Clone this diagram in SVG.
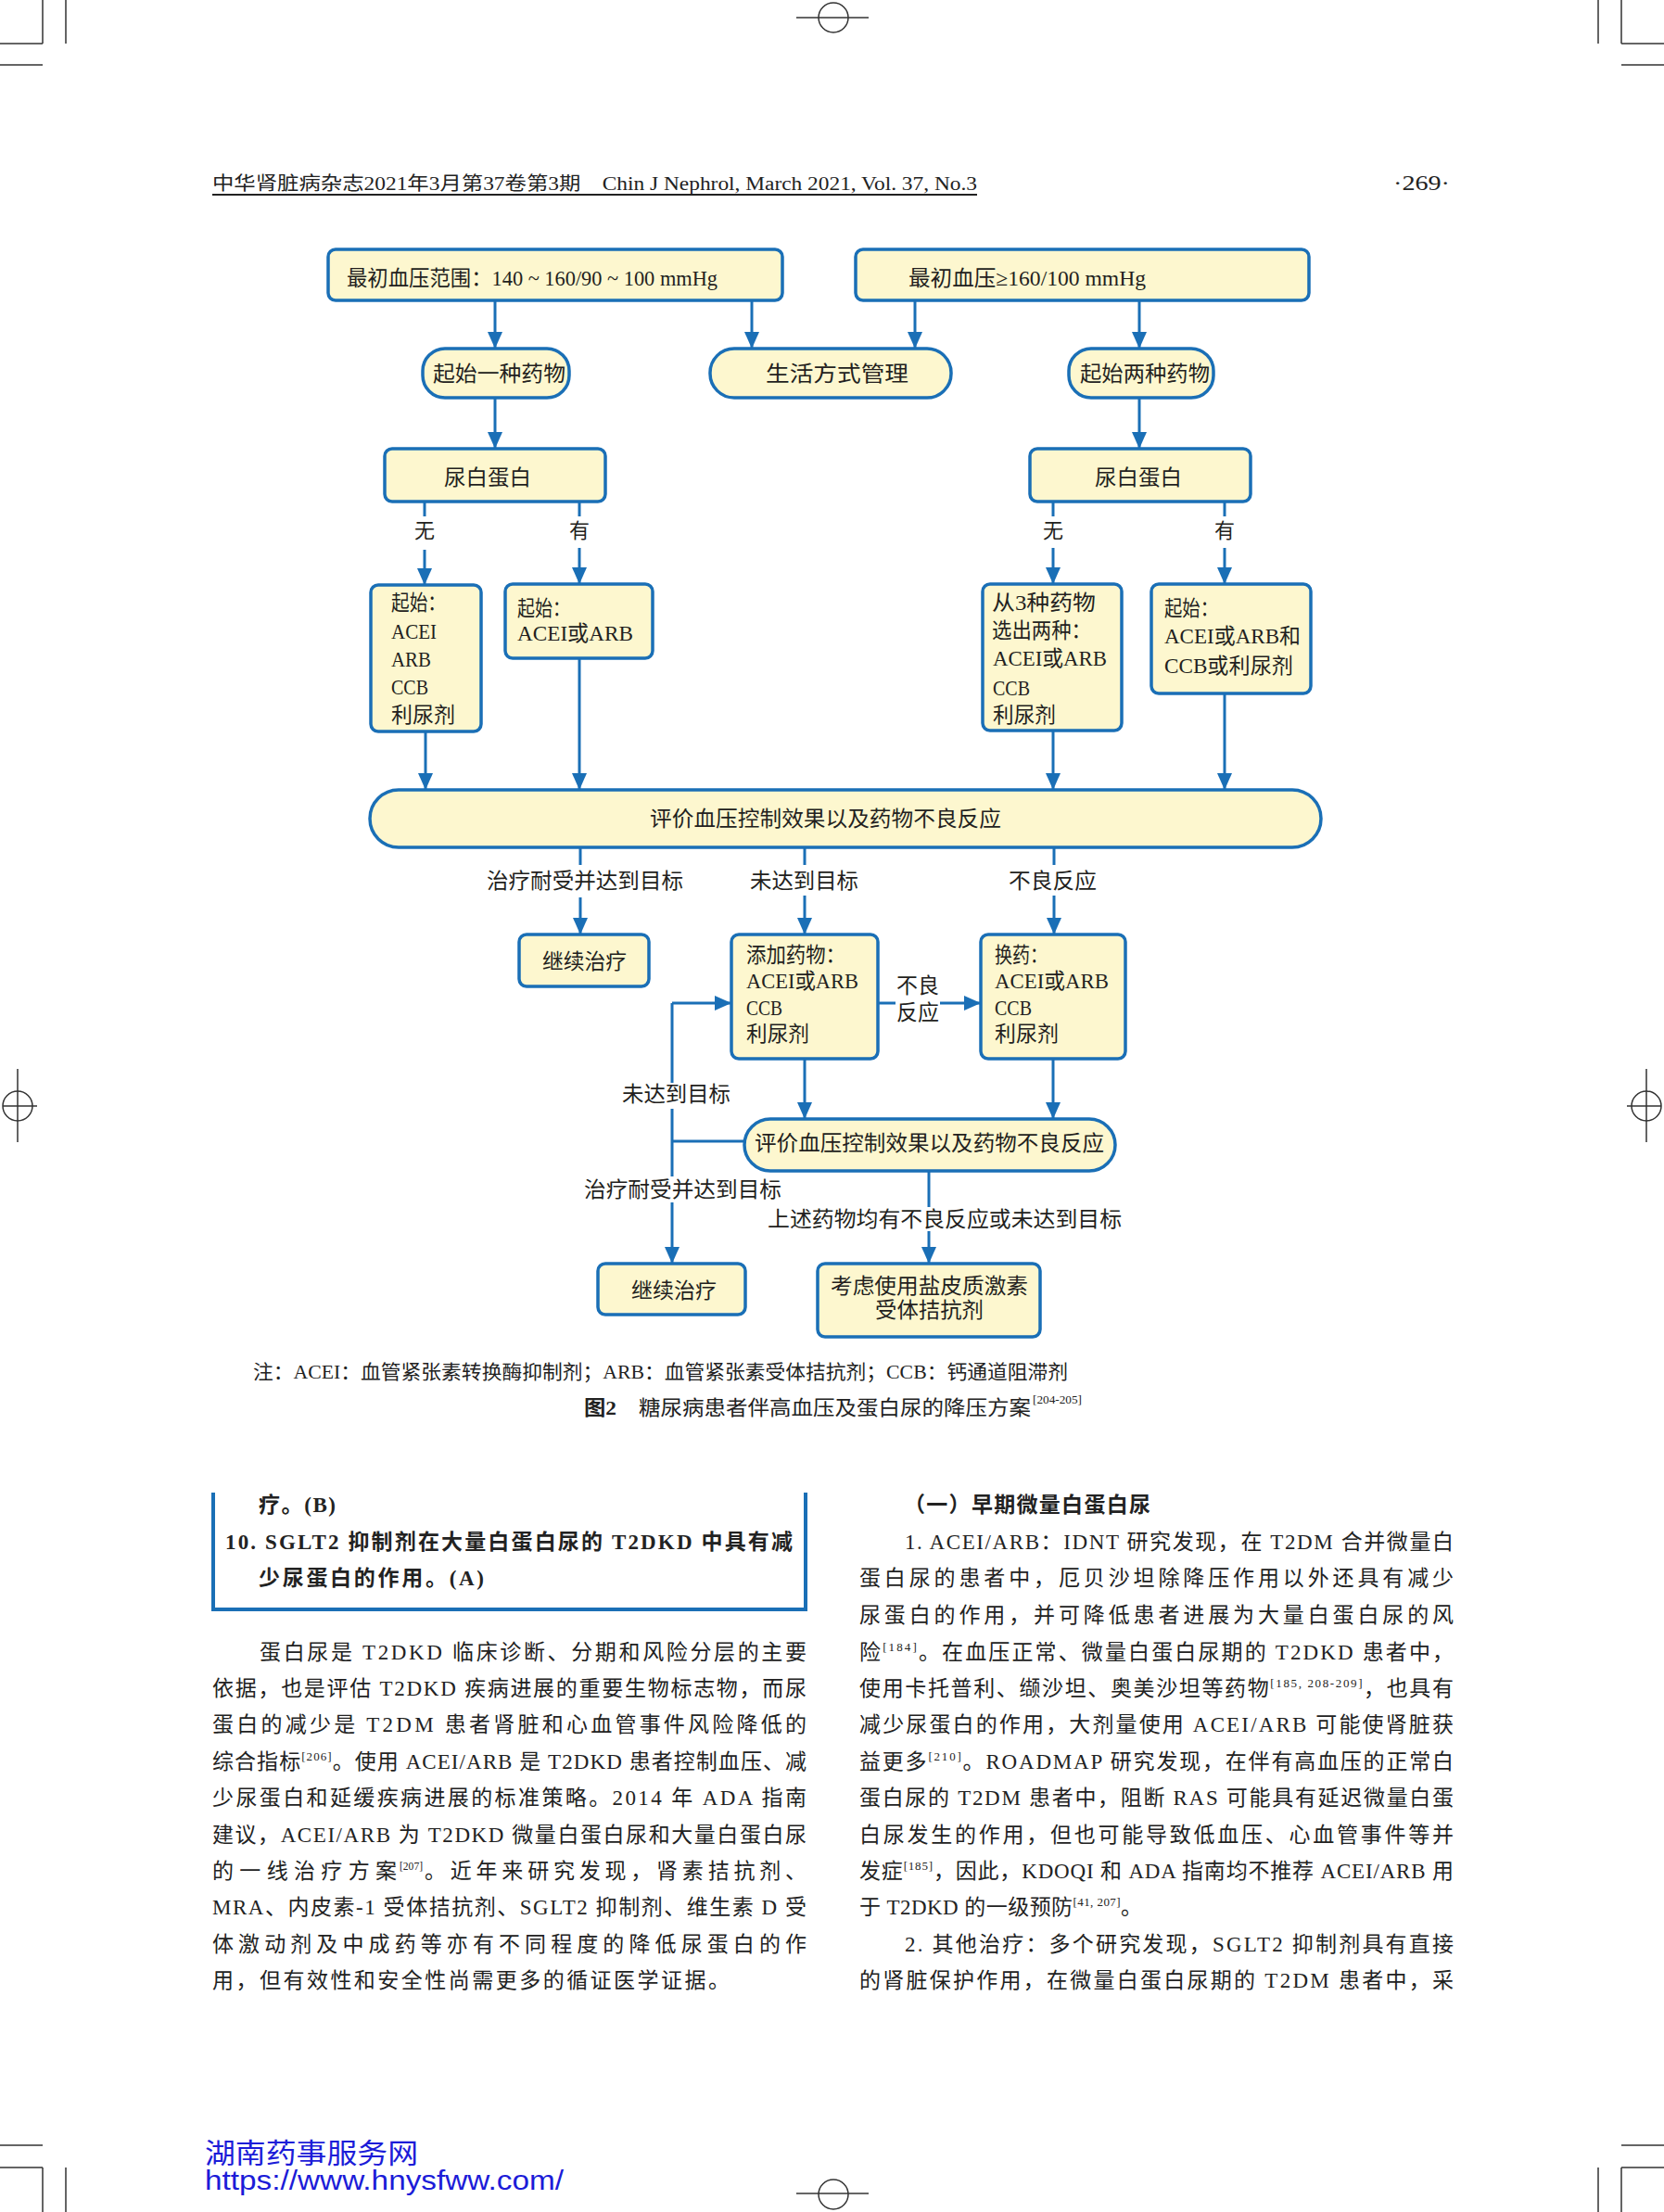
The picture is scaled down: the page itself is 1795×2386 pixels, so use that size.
<svg xmlns="http://www.w3.org/2000/svg" width="1795" height="2386" viewBox="0 0 1795 2386">
<style>
.bx{fill:#fdf7cf;stroke:#1a6fb6;stroke-width:3.5}
.c{fill:none;stroke:#1a6fb6;stroke-width:3}
.a{marker-end:url(#ah)}
.t{font-family:'Liberation Serif','Noto Sans CJK SC',serif;font-size:23px;fill:#231f20}
.lb{font-size:22px}
.b{font-family:'Liberation Serif','Noto Sans CJK SC',serif;font-size:23px;fill:#222}
.bd{font-weight:bold}
.m{fill:none;stroke:#333;stroke-width:1.5}
.wm{fill:#1c1cd8}
</style>
<defs>
<marker id="ah" markerUnits="userSpaceOnUse" markerWidth="18" markerHeight="18" viewBox="0 0 18 18" refX="18" refY="9" orient="auto"><path d="M0,1 L18,9 L0,17 z" fill="#1a6fb6"/></marker>
</defs>
<rect width="1795" height="2386" fill="#fff"/>

<g id="page-marks">
<path class="m" d="M46,0V47M0,47H46M71,0V47M0,70H46"/>
<path class="m" d="M1724,0V47M1749,0V47M1749,47H1795M1749,70H1795"/>
<path class="m" d="M0,2314H46M0,2338H46M46,2338V2386M71,2338V2386"/>
<path class="m" d="M1724,2338V2386M1749,2338V2386M1749,2338H1795M1749,2314H1795"/>
<circle class="m" cx="899" cy="19" r="16"/><path class="m" d="M859,19H937"/>
<circle class="m" cx="899" cy="2367" r="16"/><path class="m" d="M859,2366H937"/>
<circle class="m" cx="19" cy="1193" r="16"/><path class="m" d="M19,1153V1232M3,1193H40"/>
<circle class="m" cx="1776" cy="1193" r="16"/><path class="m" d="M1776,1153V1232M1755,1193H1792"/>
</g>

<g id="header">
<text class="b" x="229" y="205" textLength="825" lengthAdjust="spacingAndGlyphs" style="font-size:20px">中华肾脏病杂志2021年3月第37卷第3期　Chin J Nephrol, March 2021, Vol. 37, No.3</text>
<path d="M229,210H1054" stroke="#222" stroke-width="2"/>
<text class="b" x="1503" y="205" textLength="61" lengthAdjust="spacingAndGlyphs" style="font-size:23px">·269·</text>
</g>

<g id="connectors">
<path class="c a" d="M534,324V376"/>
<path class="c a" d="M811,324V376"/>
<path class="c a" d="M987,324V376"/>
<path class="c a" d="M1229,324V376"/>
<path class="c a" d="M534,429V484"/>
<path class="c a" d="M1229,429V484"/>
<path class="c" d="M458,541V557"/><path class="c a" d="M458,593V631"/>
<path class="c" d="M625,541V557"/><path class="c a" d="M625,591V630"/>
<path class="c" d="M1136,541V557"/><path class="c a" d="M1136,591V630"/>
<path class="c" d="M1321,541V557"/><path class="c a" d="M1321,591V630"/>
<path class="c a" d="M459,789V852"/>
<path class="c a" d="M625,710V852"/>
<path class="c a" d="M1136,788V852"/>
<path class="c a" d="M1321,748V852"/>
<path class="c" d="M626,914V933"/><path class="c a" d="M626,968V1008"/>
<path class="c" d="M868,914V933"/><path class="c a" d="M868,966V1008"/>
<path class="c" d="M1137,914V933"/><path class="c a" d="M1137,966V1008"/>
<path class="c" d="M947,1082H966"/><path class="c a" d="M1014,1082H1058"/>
<path class="c a" d="M725,1082H789"/>
<path class="c" d="M725,1082V1168M725,1196V1269"/><path class="c a" d="M725,1297V1363"/>
<path class="c" d="M803,1231H725"/>
<path class="c a" d="M868,1142V1207"/>
<path class="c a" d="M1136,1142V1207"/>
<path class="c" d="M1002,1263V1302"/><path class="c a" d="M1002,1328V1363"/>
</g>

<g id="edge-labels" class="t">
<text class="lb" x="458" y="580" text-anchor="middle">无</text>
<text class="lb" x="625" y="580" text-anchor="middle">有</text>
<text class="lb" x="1136" y="580" text-anchor="middle">无</text>
<text class="lb" x="1321" y="580" text-anchor="middle">有</text>
<text x="525" y="958" textLength="212" lengthAdjust="spacingAndGlyphs">治疗耐受并达到目标</text>
<text x="809" y="958" textLength="117" lengthAdjust="spacingAndGlyphs">未达到目标</text>
<text x="1088" y="958" textLength="95" lengthAdjust="spacingAndGlyphs">不良反应</text>
<text x="967" y="1071" textLength="46" lengthAdjust="spacingAndGlyphs">不良</text>
<text x="967" y="1100" textLength="46" lengthAdjust="spacingAndGlyphs">反应</text>
<text x="671" y="1188" textLength="117" lengthAdjust="spacingAndGlyphs">未达到目标</text>
<text x="630" y="1291" textLength="213" lengthAdjust="spacingAndGlyphs">治疗耐受并达到目标</text>
<text x="828" y="1323" textLength="382" lengthAdjust="spacingAndGlyphs">上述药物均有不良反应或未达到目标</text>
</g>

<g id="n-init-range" class="t">
<rect class="bx" x="354" y="269" width="490" height="55" rx="8"/>
<text x="374" y="308" textLength="400" lengthAdjust="spacingAndGlyphs">最初血压范围：140 ~ 160/90 ~ 100 mmHg</text>
</g>
<g id="n-init-high" class="t">
<rect class="bx" x="923" y="269" width="489" height="55" rx="8"/>
<text x="980" y="308" textLength="256" lengthAdjust="spacingAndGlyphs">最初血压≥160/100 mmHg</text>
</g>
<g id="n-one-drug" class="t">
<rect class="bx" x="456" y="376" width="158" height="53" rx="24"/>
<text x="467" y="411" textLength="143" lengthAdjust="spacingAndGlyphs">起始一种药物</text>
</g>
<g id="n-lifestyle" class="t">
<rect class="bx" x="766" y="376" width="260" height="53" rx="26"/>
<text x="826" y="411" textLength="154" lengthAdjust="spacingAndGlyphs">生活方式管理</text>
</g>
<g id="n-two-drugs" class="t">
<rect class="bx" x="1153" y="376" width="156" height="53" rx="24"/>
<text x="1165" y="411" textLength="140" lengthAdjust="spacingAndGlyphs">起始两种药物</text>
</g>
<g id="n-prot-left" class="t">
<rect class="bx" x="415" y="484" width="238" height="57" rx="8"/>
<text x="479" y="523" textLength="94" lengthAdjust="spacingAndGlyphs">尿白蛋白</text>
</g>
<g id="n-prot-right" class="t">
<rect class="bx" x="1111" y="484" width="238" height="57" rx="8"/>
<text x="1181" y="523" textLength="94" lengthAdjust="spacingAndGlyphs">尿白蛋白</text>
</g>
<g id="n-l-none" class="t">
<rect class="bx" x="400" y="631" width="119" height="158" rx="8"/>
<text x="422" y="658" textLength="59" lengthAdjust="spacingAndGlyphs">起始：</text>
<text x="422" y="689" textLength="49" lengthAdjust="spacingAndGlyphs">ACEI</text>
<text x="422" y="719" textLength="43" lengthAdjust="spacingAndGlyphs">ARB</text>
<text x="422" y="749" textLength="40" lengthAdjust="spacingAndGlyphs">CCB</text>
<text x="422" y="779" textLength="69" lengthAdjust="spacingAndGlyphs">利尿剂</text>
</g>
<g id="n-l-has" class="t">
<rect class="bx" x="545" y="630" width="159" height="80" rx="8"/>
<text x="558" y="664" textLength="57" lengthAdjust="spacingAndGlyphs">起始：</text>
<text x="558" y="691" textLength="125" lengthAdjust="spacingAndGlyphs">ACEI或ARB</text>
</g>
<g id="n-r-none" class="t">
<rect class="bx" x="1060" y="630" width="150" height="158" rx="8"/>
<text x="1070" y="658" textLength="112" lengthAdjust="spacingAndGlyphs">从3种药物</text>
<text x="1070" y="688" textLength="107" lengthAdjust="spacingAndGlyphs">选出两种：</text>
<text x="1071" y="718" textLength="123" lengthAdjust="spacingAndGlyphs">ACEI或ARB</text>
<text x="1071" y="750" textLength="40" lengthAdjust="spacingAndGlyphs">CCB</text>
<text x="1071" y="779" textLength="68" lengthAdjust="spacingAndGlyphs">利尿剂</text>
</g>
<g id="n-r-has" class="t">
<rect class="bx" x="1242" y="630" width="172" height="118" rx="8"/>
<text x="1256" y="664" textLength="58" lengthAdjust="spacingAndGlyphs">起始：</text>
<text x="1256" y="694" textLength="147" lengthAdjust="spacingAndGlyphs">ACEI或ARB和</text>
<text x="1256" y="726" textLength="139" lengthAdjust="spacingAndGlyphs">CCB或利尿剂</text>
</g>
<g id="n-eval1" class="t">
<rect class="bx" x="399" y="852" width="1026" height="62" rx="31"/>
<text x="701" y="891" textLength="379" lengthAdjust="spacingAndGlyphs">评价血压控制效果以及药物不良反应</text>
</g>
<g id="n-continue1" class="t">
<rect class="bx" x="560" y="1008" width="140" height="56" rx="8"/>
<text x="585" y="1045" textLength="91" lengthAdjust="spacingAndGlyphs">继续治疗</text>
</g>
<g id="n-add" class="t">
<rect class="bx" x="789" y="1008" width="158" height="134" rx="8"/>
<text x="805" y="1038" textLength="107" lengthAdjust="spacingAndGlyphs">添加药物：</text>
<text x="805" y="1066" textLength="121" lengthAdjust="spacingAndGlyphs">ACEI或ARB</text>
<text x="805" y="1095" textLength="39" lengthAdjust="spacingAndGlyphs">CCB</text>
<text x="805" y="1123" textLength="68" lengthAdjust="spacingAndGlyphs">利尿剂</text>
</g>
<g id="n-switch" class="t">
<rect class="bx" x="1058" y="1008" width="156" height="134" rx="8"/>
<text x="1073" y="1038" textLength="57" lengthAdjust="spacingAndGlyphs">换药：</text>
<text x="1073" y="1066" textLength="123" lengthAdjust="spacingAndGlyphs">ACEI或ARB</text>
<text x="1073" y="1095" textLength="40" lengthAdjust="spacingAndGlyphs">CCB</text>
<text x="1073" y="1123" textLength="69" lengthAdjust="spacingAndGlyphs">利尿剂</text>
</g>
<g id="n-eval2" class="t">
<rect class="bx" x="803" y="1207" width="400" height="56" rx="28"/>
<text x="814" y="1241" textLength="377" lengthAdjust="spacingAndGlyphs">评价血压控制效果以及药物不良反应</text>
</g>
<g id="n-continue2" class="t">
<rect class="bx" x="645" y="1363" width="159" height="55" rx="8"/>
<text x="681" y="1400" textLength="92" lengthAdjust="spacingAndGlyphs">继续治疗</text>
</g>
<g id="n-mra" class="t">
<rect class="bx" x="882" y="1363" width="240" height="79" rx="8"/>
<text x="896" y="1395" textLength="213" lengthAdjust="spacingAndGlyphs">考虑使用盐皮质激素</text>
<text x="944" y="1421" textLength="117" lengthAdjust="spacingAndGlyphs">受体拮抗剂</text>
</g>

<g id="caption" class="b">
<text x="273" y="1487" textLength="879" lengthAdjust="spacingAndGlyphs" style="font-size:21px">注：ACEI：血管紧张素转换酶抑制剂；ARB：血管紧张素受体拮抗剂；CCB：钙通道阻滞剂</text>
<text class="bd" x="630" y="1526" textLength="35" lengthAdjust="spacingAndGlyphs" style="font-size:22px">图2</text>
<text x="689" y="1526" textLength="423" lengthAdjust="spacingAndGlyphs" style="font-size:22px">糖尿病患者伴高血压及蛋白尿的降压方案</text>
<text x="1114" y="1514" textLength="53" lengthAdjust="spacingAndGlyphs" style="font-size:13px">[204-205]</text>
</g>

<g id="body-left" class="b">
<path d="M230,1610V1736H869V1610" fill="none" stroke="#1a6fb6" stroke-width="4"/>
<text class="bd" x="279" y="1631" textLength="83">疗。(B)</text>
<text class="bd" x="243" y="1671" textLength="612">10. SGLT2 抑制剂在大量白蛋白尿的 T2DKD 中具有减</text>
<text class="bd" x="279" y="1710" textLength="243">少尿蛋白的作用。(A)</text>
<text x="280" y="1790" textLength="590">蛋白尿是 T2DKD 临床诊断、分期和风险分层的主要</text>
<text x="229" y="1829" textLength="641">依据，也是评估 T2DKD 疾病进展的重要生物标志物，而尿</text>
<text x="229" y="1868" textLength="641">蛋白的减少是 T2DM 患者肾脏和心血管事件风险降低的</text>
<text x="229" y="1908" textLength="641">综合指标<tspan font-size="13" dy="-9">[206]</tspan><tspan dy="9">。使用 ACEI/ARB 是 T2DKD 患者控制血压、减</tspan></text>
<text x="229" y="1947" textLength="641">少尿蛋白和延缓疾病进展的标准策略。2014 年 ADA 指南</text>
<text x="229" y="1987" textLength="641">建议，ACEI/ARB 为 T2DKD 微量白蛋白尿和大量白蛋白尿</text>
<text x="229" y="2026" textLength="199">的一线治疗方案</text>
<text x="431" y="2017" textLength="25" lengthAdjust="spacingAndGlyphs" style="font-size:13px">[207]</text>
<text x="458" y="2026" textLength="412">。近年来研究发现，肾素拮抗剂、</text>
<text x="229" y="2065" textLength="641">MRA、内皮素-1 受体拮抗剂、SGLT2 抑制剂、维生素 D 受</text>
<text x="229" y="2105" textLength="641">体激动剂及中成药等亦有不同程度的降低尿蛋白的作</text>
<text x="229" y="2144" textLength="558">用，但有效性和安全性尚需更多的循证医学证据。</text>
</g>

<g id="body-right" class="b">
<text class="bd" x="975" y="1631" textLength="266">（一）早期微量白蛋白尿</text>
<text x="976" y="1671" textLength="592">1. ACEI/ARB：IDNT 研究发现，在 T2DM 合并微量白</text>
<text x="927" y="1710" textLength="641">蛋白尿的患者中，厄贝沙坦除降压作用以外还具有减少</text>
<text x="927" y="1750" textLength="641">尿蛋白的作用，并可降低患者进展为大量白蛋白尿的风</text>
<text x="927" y="1790" textLength="641">险<tspan font-size="13" dy="-9">[184]</tspan><tspan dy="9">。在血压正常、微量白蛋白尿期的 T2DKD 患者中，</tspan></text>
<text x="927" y="1829" textLength="641">使用卡托普利、缬沙坦、奥美沙坦等药物<tspan font-size="13" dy="-9">[185, 208-209]</tspan><tspan dy="9">，也具有</tspan></text>
<text x="927" y="1868" textLength="641">减少尿蛋白的作用，大剂量使用 ACEI/ARB 可能使肾脏获</text>
<text x="927" y="1908" textLength="641">益更多<tspan font-size="13" dy="-9">[210]</tspan><tspan dy="9">。ROADMAP 研究发现，在伴有高血压的正常白</tspan></text>
<text x="927" y="1947" textLength="641">蛋白尿的 T2DM 患者中，阻断 RAS 可能具有延迟微量白蛋</text>
<text x="927" y="1987" textLength="641">白尿发生的作用，但也可能导致低血压、心血管事件等并</text>
<text x="927" y="2026" textLength="641">发症<tspan font-size="13" dy="-9">[185]</tspan><tspan dy="9">，因此，KDOQI 和 ADA 指南均不推荐 ACEI/ARB 用</tspan></text>
<text x="927" y="2065" textLength="305">于 T2DKD 的一级预防<tspan font-size="13" dy="-9">[41, 207]</tspan><tspan dy="9">。</tspan></text>
<text x="976" y="2105" textLength="592">2. 其他治疗：多个研究发现，SGLT2 抑制剂具有直接</text>
<text x="927" y="2144" textLength="641">的肾脏保护作用，在微量白蛋白尿期的 T2DM 患者中，采</text>
</g>

<g id="watermark">
<text class="wm" x="221" y="2333" textLength="230" lengthAdjust="spacingAndGlyphs" style="font-family:'Liberation Sans','Noto Sans CJK SC',sans-serif;font-size:30px">湖南药事服务网</text>
<text class="wm" x="221" y="2362" textLength="387" lengthAdjust="spacingAndGlyphs" style="font-family:'Liberation Sans','Noto Sans CJK SC',sans-serif;font-size:30px">https://www.hnysfww.com/</text>
</g>
</svg>
